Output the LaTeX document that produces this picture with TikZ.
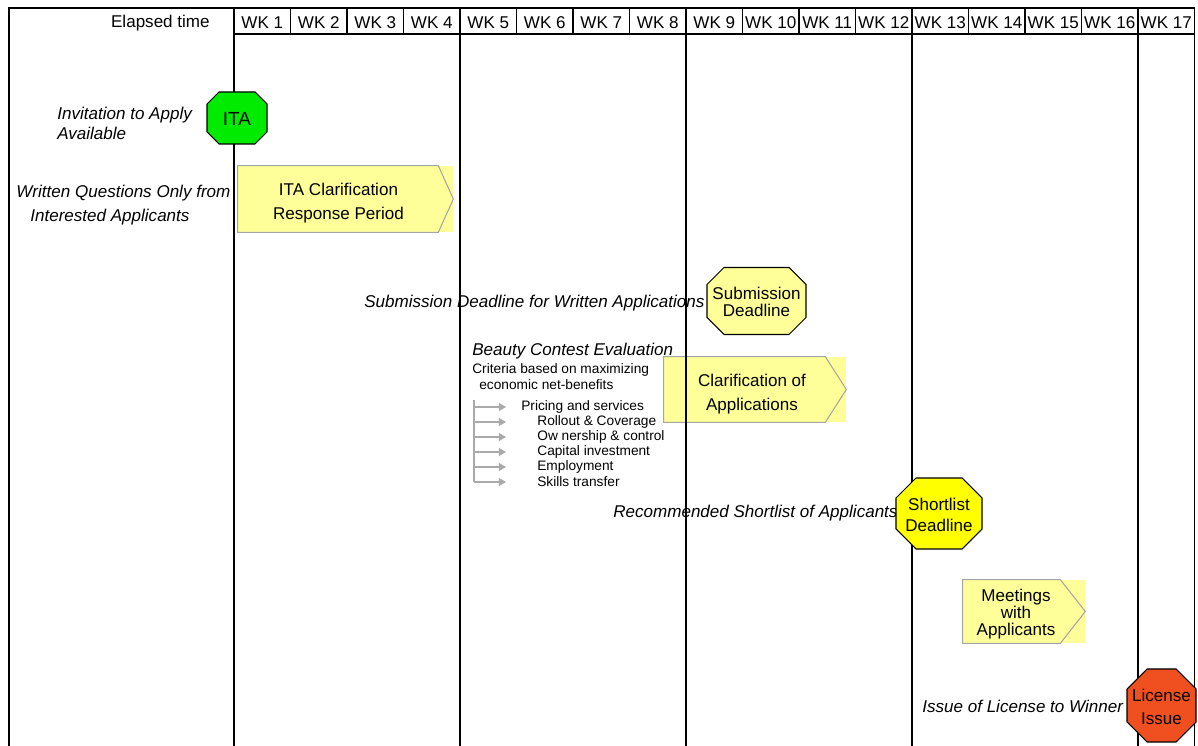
\documentclass[tikz,border=0pt]{standalone}
\usepackage{fontspec}
\setmainfont{Liberation Sans}
\usetikzlibrary{arrows.meta,calc}

\definecolor{itagreen}{RGB}{0,235,0}
\definecolor{paleyellow}{RGB}{255,255,153}
\definecolor{shortyellow}{RGB}{255,255,0}
\definecolor{licensered}{RGB}{240,80,32}
\definecolor{chevgray}{RGB}{165,165,165}
\definecolor{listgray}{RGB}{170,170,170}

% octagon milestone: name, cx, cy, width, height, chamfer, fill, text
\newcommand{\octbox}[8]{%
  \filldraw[octline, fill=#7] ({#2-#4/2+#6},{#3-#5/2}) -- ({#2+#4/2-#6},{#3-#5/2})
    -- ({#2+#4/2},{#3-#5/2+#6}) -- ({#2+#4/2},{#3+#5/2-#6})
    -- ({#2+#4/2-#6},{#3+#5/2}) -- ({#2-#4/2+#6},{#3+#5/2})
    -- ({#2-#4/2},{#3+#5/2-#6}) -- ({#2-#4/2},{#3-#5/2+#6}) -- cycle;
  \node[octtext] (#1) at (#2,{#3+1}) {#8};}

\begin{document}
\begin{tikzpicture}[x=0.02cm, y=-0.02cm,
  grid/.style={draw=black, line width=0.8pt},
  wklabel/.style={font=\fontsize{9.7}{11}\selectfont, inner sep=0},
  milestone/.style={font=\itshape\fontsize{9.7}{11.3}\selectfont, inner sep=0, anchor=west, align=left},
  chevfill/.style={fill=paleyellow, inner sep=0},
  chevtext/.style={inner sep=0, align=center, font=\fontsize{9.7}{13.6}\selectfont},
  chevline/.style={draw=chevgray, line width=0.6pt},
  octline/.style={draw=black, line width=0.6pt},
  octtext/.style={inner sep=0, align=center, font=\fontsize{9.7}{9.6}\selectfont},
  crit/.style={font=\fontsize{7.8}{8.5}\selectfont, inner sep=0, anchor=west, align=left},
  critarrow/.style={draw=listgray, line width=0.6pt, -{Triangle[length=4pt,width=4.5pt]}}
]
\useasboundingbox (0,0) rectangle (1198,746);

% activity boxes
\node[chevfill, minimum width=4.3cm, minimum height=1.32cm] (itaclar) at (345.5,199) {};
\draw[chevline] (itaclar.north west) -- ($(itaclar.north east)+(-15,0)$) -- (itaclar.east)
  -- ($(itaclar.south east)+(-15,0)$) -- (itaclar.south west) -- cycle;
\node[chevtext] (itaclartext) at ($(itaclar.center)+(-7,4)$) {ITA Clarification\\Response Period};

\node[chevfill, minimum width=3.64cm, minimum height=1.3cm] (appclar) at (755,389.5) {};
\draw[chevline] (appclar.north west) -- ($(appclar.north east)+(-21,0)$) -- (appclar.east)
  -- ($(appclar.south east)+(-21,0)$) -- (appclar.south west) -- cycle;
\node[chevtext] (appclartext) at ($(appclar.center)+(-3,5)$) {Clarification of\\Applications};

\node[chevfill, minimum width=2.44cm, minimum height=1.26cm] (meet) at (1024,611.5) {};
\draw[chevline] (meet.north west) -- ($(meet.north east)+(-25,0)$) -- (meet.east)
  -- ($(meet.south east)+(-25,0)$) -- (meet.south west) -- cycle;
\node[chevtext, font=\fontsize{9.7}{9.6}\selectfont] (meettext) at ($(meet.center)+(-8,2.5)$)
  {Meetings\\with\\Applicants};

% time grid
\draw[grid] (9,746) -- (9,8) -- (1194.5,8);
\draw[grid] (234,34) -- (1194.5,34);
\foreach \i in {0,...,17}
  \draw[grid] ({234+56.5*\i},8) -- ({234+56.5*\i},34);
\foreach \i in {0,4,8,12,16,17}
  \draw[grid] ({234+56.5*\i},34) -- ({234+56.5*\i},746);

\node[wklabel, anchor=east] (elapsed) at (210,23) {Elapsed time};
\foreach \i in {1,...,17}
  \node[wklabel] (wk\i) at ({234+56.5*(\i-0.5)},23) {WK \i};

% milestone captions
\node[milestone] (invite) at (57,123) {Invitation to Apply\\Available};
\node[milestone, font=\itshape\fontsize{9.7}{13.6}\selectfont] (written) at (16,205)
  {Written Questions Only from\\\hspace*{0.28cm}Interested Applicants};
\node[milestone] (subcap) at (364,303) {Submission Deadline for Written Applications};
\node[milestone] (shortcap) at (613,513) {Recommended Shortlist of Applicants};
\node[milestone] (liccap) at (922,706) {Issue of License to Winner};

% milestones
\octbox{ita}{237}{118}{60}{52}{12}{itagreen}{\fontsize{10.8}{12}\selectfont ITA}
\octbox{subdl}{756.5}{301}{99}{67}{17}{paleyellow}{Submission\\Deadline}
\octbox{shortdl}{939}{513.5}{86}{71}{20}{shortyellow}{Shortlist\\[2.3pt]Deadline}
\octbox{licence}{1161.5}{705.5}{69}{73}{20}{licensered}{License\\[3.4pt]Issue}

% evaluation criteria
\node[milestone] (beauty) at (472,351) {Beauty Contest Evaluation};
\node[crit, font=\fontsize{7.8}{9}\selectfont] (criteria) at (472,376.5)
  {Criteria based on maximizing\\\hspace*{0.14cm}economic net-benefits};
\draw[draw=listgray, line width=0.6pt] (474,400) -- (474,482);
\foreach \y/\txt/\x [count=\k] in {407/Pricing and services/521, 422/Rollout \& Coverage/537,
    437/Ow nership \& control/537, 452/Capital investment/537, 467/Employment/537,
    482/Skills transfer/537} {
  \coordinate (trunk\k) at (474,\y);
  \draw[critarrow] (trunk\k) -- ++(32,0);
  \node[crit] (item\k) at (\x,\y) {\txt};
}

\end{tikzpicture}
\end{document}
